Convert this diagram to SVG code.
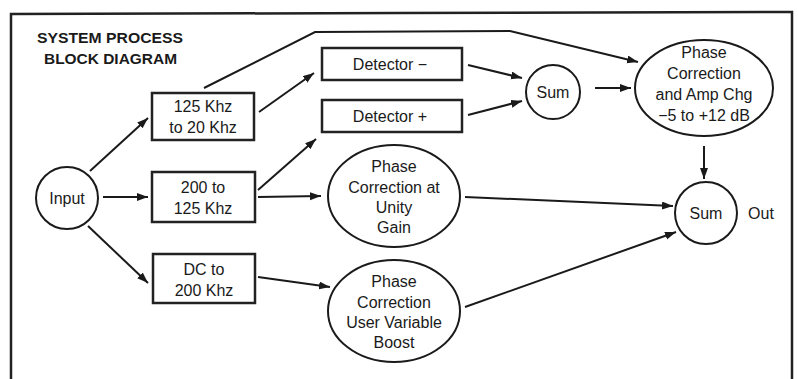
<svg xmlns="http://www.w3.org/2000/svg" width="798" height="379" viewBox="0 0 798 379">
<style>
  .t { font-family: "Liberation Sans", Arial, sans-serif; font-size: 16px; fill: #1a1a1a; text-anchor: middle; }
  .title { font-family: "Liberation Sans", Arial, sans-serif; font-size: 15.5px; font-weight: bold; fill: #1a1a1a; }
  .box { fill: #ffffff; stroke: #222; stroke-width: 2.5; }
  .shape { fill: #ffffff; stroke: #1a1a1a; stroke-width: 2; }
  .conn { fill: none; stroke: #1a1a1a; stroke-width: 2; marker-end: url(#arr); }
  .frame { fill: none; stroke: #222; stroke-width: 2.5; }
</style>
<defs>
  <marker id="arr" markerUnits="userSpaceOnUse" markerWidth="12" markerHeight="9" refX="11" refY="4" orient="auto">
    <path d="M0,0 L11,4 L0,8 z" fill="#1a1a1a"/>
  </marker>
</defs>
<rect width="798" height="379" fill="#ffffff"/>
<path class="frame" d="M11,379 L11,14 L400,13 L792,12 L792,379"/>
<g id="title">
  <text class="title" x="37" y="43" textLength="146" lengthAdjust="spacingAndGlyphs">SYSTEM PROCESS</text>
  <text class="title" x="44" y="64" textLength="133" lengthAdjust="spacingAndGlyphs">BLOCK DIAGRAM</text>
</g>
<g id="connectors">
  <line class="conn" x1="90" y1="171" x2="148" y2="118"/>
  <line class="conn" x1="103" y1="197" x2="148" y2="197"/>
  <line class="conn" x1="88" y1="226" x2="148" y2="283"/>
  <line class="conn" x1="259" y1="112" x2="314" y2="73"/>
  <line class="conn" x1="258" y1="190" x2="316" y2="139"/>
  <line class="conn" x1="258" y1="197" x2="321" y2="196"/>
  <line class="conn" x1="258" y1="277" x2="330" y2="287"/>
  <polyline class="conn" points="204,88 315,32 510,31 638,62"/>
  <line class="conn" x1="468" y1="65" x2="522" y2="78"/>
  <line class="conn" x1="468" y1="115" x2="522" y2="101"/>
  <line class="conn" x1="595" y1="88" x2="631" y2="88"/>
  <line class="conn" x1="704" y1="146" x2="704" y2="179"/>
  <line class="conn" x1="465" y1="197" x2="673" y2="206"/>
  <line class="conn" x1="465" y1="307" x2="676" y2="232"/>
</g>
<g id="input">
  <circle class="shape" cx="67" cy="198" r="31"/>
  <text class="t" x="67" y="204">Input</text>
</g>
<g id="band-high">
  <rect class="box" x="152" y="93" width="102" height="47"/>
  <text class="t" x="203" y="112">125 Khz</text>
  <text class="t" x="203" y="133">to 20 Khz</text>
</g>
<g id="band-mid">
  <rect class="box" x="152" y="172" width="103" height="50"/>
  <text class="t" x="203" y="193">200 to</text>
  <text class="t" x="203" y="214">125 Khz</text>
</g>
<g id="band-low">
  <rect class="box" x="153" y="254" width="102" height="49"/>
  <text class="t" x="204" y="275">DC to</text>
  <text class="t" x="204" y="296">200 Khz</text>
</g>
<g id="detector-minus">
  <rect class="box" x="322" y="48" width="140" height="32"/>
  <text class="t" x="390" y="70">Detector −</text>
</g>
<g id="detector-plus">
  <rect class="box" x="322" y="100" width="140" height="32"/>
  <text class="t" x="390" y="122">Detector +</text>
</g>
<g id="sum1">
  <circle class="shape" cx="553" cy="92" r="27"/>
  <text class="t" x="553" y="98">Sum</text>
</g>
<g id="phase-amp">
  <ellipse class="shape" cx="704" cy="88" rx="69" ry="48"/>
  <text class="t" x="704" y="58">Phase</text>
  <text class="t" x="704" y="79">Correction</text>
  <text class="t" x="704" y="100">and Amp Chg</text>
  <text class="t" x="704" y="121">−5 to +12 dB</text>
</g>
<g id="phase-unity">
  <ellipse class="shape" cx="394" cy="196" rx="66" ry="51"/>
  <text class="t" x="394" y="172">Phase</text>
  <text class="t" x="394" y="193">Correction at</text>
  <text class="t" x="394" y="213">Unity</text>
  <text class="t" x="394" y="233">Gain</text>
</g>
<g id="phase-boost">
  <ellipse class="shape" cx="394" cy="311" rx="66" ry="51"/>
  <text class="t" x="394" y="287">Phase</text>
  <text class="t" x="394" y="308">Correction</text>
  <text class="t" x="394" y="328">User Variable</text>
  <text class="t" x="394" y="348">Boost</text>
</g>
<g id="sum-out">
  <circle class="shape" cx="706" cy="213" r="31"/>
  <text class="t" x="706" y="219">Sum</text>
</g>
<g id="out">
  <text class="t" x="761" y="219">Out</text>
</g>
</svg>
